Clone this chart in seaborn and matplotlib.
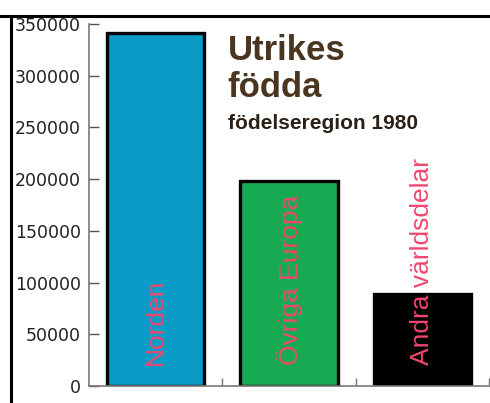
import matplotlib
matplotlib.use("Agg")
import matplotlib.pyplot as plt
import seaborn as sns
import pandas as pd
from matplotlib.lines import Line2D

# data
regions = ["Norden", "Övriga Europa", "Andra världsdelar"]
counts = [341000, 198000, 89000]
bar_colors = ["#0a9bc7", "#18aa52", "#000000"]
yticks = [0, 50000, 100000, 150000, 200000, 250000, 300000, 350000]

df = pd.DataFrame({"region": regions, "count": counts})

sns.set_style("white")
plt.rcParams["font.family"] = ["DejaVu Sans"]

fig = plt.figure(figsize=(4.9, 4.03), dpi=100)
ax = fig.add_axes([0.1816, 0.042, 0.8164, 0.8984])

sns.barplot(
    data=df, x="region", y="count", hue="region",
    palette=bar_colors, saturation=1, width=0.73, edgecolor="black",
    linewidth=2.4, legend=False, ax=ax,
)

# labels inside the bars
for i, name in enumerate(regions):
    ax.text(i, 20000, name, rotation=90, ha="center", va="bottom",
            color="#f0476f", fontsize=19, family="Liberation Sans")

ax.set_xlim(-0.5, 2.5)
ax.set_ylim(0, 350000)
ax.set_yticks(yticks)
ax.set_yticklabels([str(v) for v in yticks])
ax.set_xticks([0.5, 1.5, 2.5])
ax.set_xticklabels([])
ax.set_xlabel("")
ax.set_ylabel("")

for side in ["top", "right"]:
    ax.spines[side].set_visible(False)
for side in ["left", "bottom"]:
    ax.spines[side].set_color("#777777")
    ax.spines[side].set_linewidth(1.2)

ax.tick_params(axis="y", direction="in", length=7, width=1, color="#555555",
               labelsize=12.5, labelcolor="#222222", pad=6, left=True)
ax.tick_params(axis="x", direction="in", length=6, width=1, color="#777777",
               bottom=True)

# title block
ax.text(0.54, 315000, "Utrikes", fontsize=25, fontweight="bold",
        family="Liberation Sans", color="#4a3520", va="baseline")
ax.text(0.54, 279500, "födda", fontsize=25, fontweight="bold",
        family="Liberation Sans", color="#4a3520", va="baseline")
ax.text(0.54, 248500, "födelseregion 1980", fontsize=15, fontweight="bold",
        family="Liberation Sans", color="#2a2016", va="baseline")

# outer frame of the picture
fig.add_artist(Line2D([0, 1], [0.960, 0.960], color="black", lw=2.2,
                      transform=fig.transFigure))
fig.add_artist(Line2D([0.0215, 0.0215], [0, 0.960], color="black", lw=2.2,
                      transform=fig.transFigure))

fig.savefig("out.png", dpi=100)
